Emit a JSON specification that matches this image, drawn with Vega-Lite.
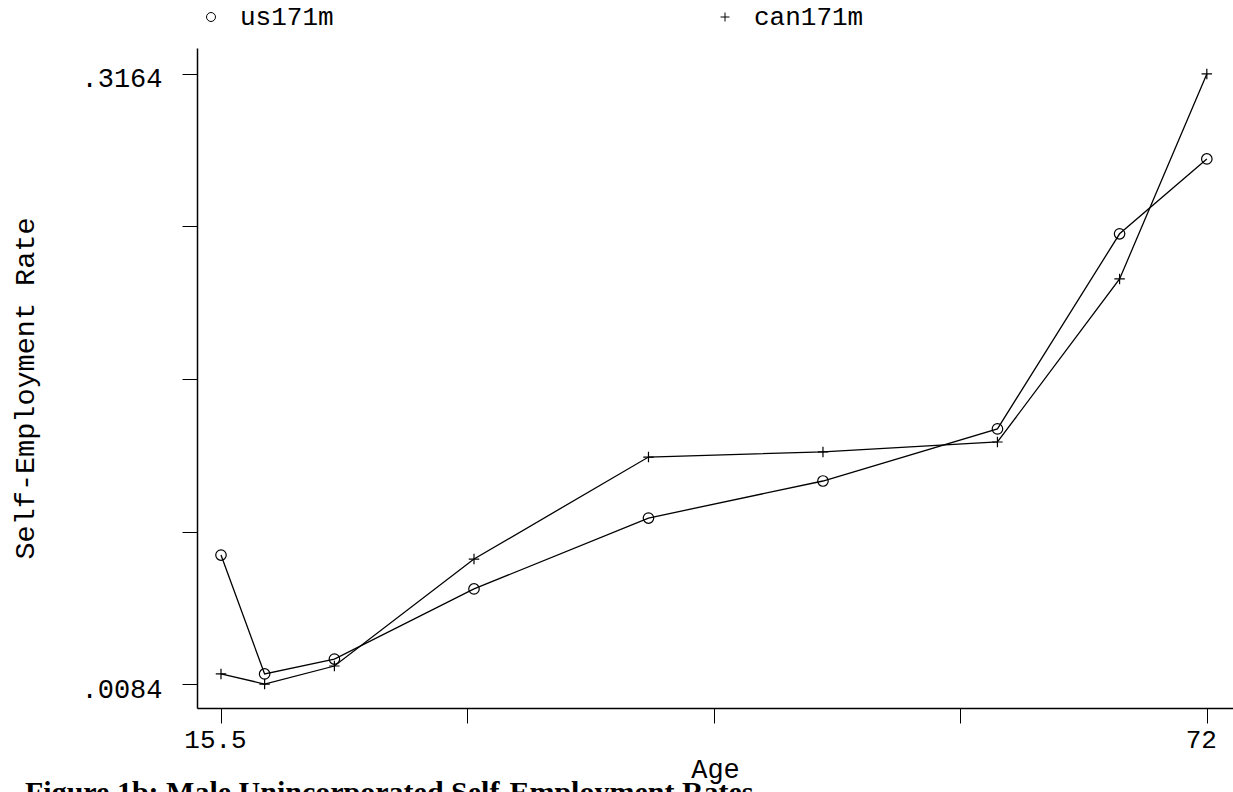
{
  "$schema": "https://vega.github.io/schema/vega-lite/v6.json",
  "width": 1036,
  "height": 660,
  "autosize": {"type": "none"},
  "padding": {"left": 197, "top": 48, "right": 0, "bottom": 84},
  "background": "white",
  "config": {
    "view": {"stroke": null},
    "font": "Liberation Mono",
    "axis": {"domainColor": "black", "tickColor": "black", "labelColor": "black", "titleColor": "black", "domainWidth": 1.5, "tickWidth": 1, "grid": false, "labelFont": "Liberation Mono", "titleFont": "Liberation Mono", "labelFontWeight": "normal", "titleFontWeight": "normal"}
  },
  "title": {
    "text": "Figure 1b: Male Unincorporated Self-Employment Rates",
    "orient": "bottom",
    "anchor": "start",
    "frame": "group",
    "font": "Liberation Serif",
    "fontSize": 30,
    "fontWeight": "bold",
    "color": "black",
    "dx": -172,
    "offset": -4,
    "baseline": "top"
  },
  "data": {
    "values": [
      {"age": 15.5, "series": "us171m", "rate": 0.0735},
      {"age": 18, "series": "us171m", "rate": 0.0135},
      {"age": 22, "series": "us171m", "rate": 0.021},
      {"age": 30, "series": "us171m", "rate": 0.0564},
      {"age": 40, "series": "us171m", "rate": 0.0922},
      {"age": 50, "series": "us171m", "rate": 0.1109},
      {"age": 60, "series": "us171m", "rate": 0.1372},
      {"age": 67, "series": "us171m", "rate": 0.2357},
      {"age": 72, "series": "us171m", "rate": 0.2735},
      {"age": 15.5, "series": "can171m", "rate": 0.0135},
      {"age": 18, "series": "can171m", "rate": 0.0084},
      {"age": 22, "series": "can171m", "rate": 0.0175},
      {"age": 30, "series": "can171m", "rate": 0.0715},
      {"age": 40, "series": "can171m", "rate": 0.123},
      {"age": 50, "series": "can171m", "rate": 0.1256},
      {"age": 60, "series": "can171m", "rate": 0.1306},
      {"age": 67, "series": "can171m", "rate": 0.2129},
      {"age": 72, "series": "can171m", "rate": 0.3164}
    ]
  },
  "encoding": {
    "x": {
      "field": "age",
      "type": "quantitative",
      "scale": {"domain": [14.125, 73.5], "nice": false, "zero": false},
      "axis": {
        "title": "Age",
        "titleFontSize": 27,
        "titlePadding": 4,
        "values": [15.5, 29.625, 43.75, 57.875, 72],
        "labelExpr": "datum.value == 15.5 ? '15.5' : datum.value == 72 ? '72' : ''",
        "labelFontSize": 26,
        "labelOffset": -6,
        "tickSize": 15,
        "labelPadding": 3,
        "labelFlush": false,
        "labelOverlap": false
      }
    },
    "y": {
      "field": "rate",
      "type": "quantitative",
      "scale": {"domain": [-0.0037, 0.3295], "nice": false, "zero": false},
      "axis": {
        "title": "Self-Employment Rate",
        "titleFontSize": 28.5,
        "titlePadding": 41,
        "titleY": 340,
        "values": [0.0084, 0.0854, 0.1624, 0.2394, 0.3164],
        "labelExpr": "abs(datum.value - 0.0084) < 1e-6 ? '.0084' : abs(datum.value - 0.3164) < 1e-6 ? '.3164' : ''",
        "labelFontSize": 27,
        "labelOffset": 5,
        "tickSize": 15,
        "labelPadding": 20,
        "labelFlush": false,
        "labelOverlap": false
      }
    },
    "detail": {"field": "series"}
  },
  "layer": [
    {
      "mark": {"type": "line", "color": "black", "strokeWidth": 1.3}
    },
    {
      "mark": {"type": "point", "filled": false, "color": "black", "strokeWidth": 1.2, "opacity": 1},
      "encoding": {
        "shape": {
          "field": "series",
          "type": "nominal",
          "scale": {"domain": ["us171m", "can171m"], "range": ["circle", "M-1,0L1,0M0,-1L0,1"]},
          "legend": {
            "title": null,
            "orient": "none",
            "direction": "horizontal",
            "legendX": 1,
            "legendY": -44,
            "columns": 2,
            "columnPadding": 378,
            "labelFont": "Liberation Mono",
            "labelFontSize": 26,
            "labelColor": "black",
            "labelOffset": 16,
            "symbolStrokeColor": "black",
            "symbolStrokeWidth": 1,
            "symbolSize": 80,
            "symbolFillColor": "transparent"
          }
        },
        "size": {"value": 110}
      }
    }
  ]
}
